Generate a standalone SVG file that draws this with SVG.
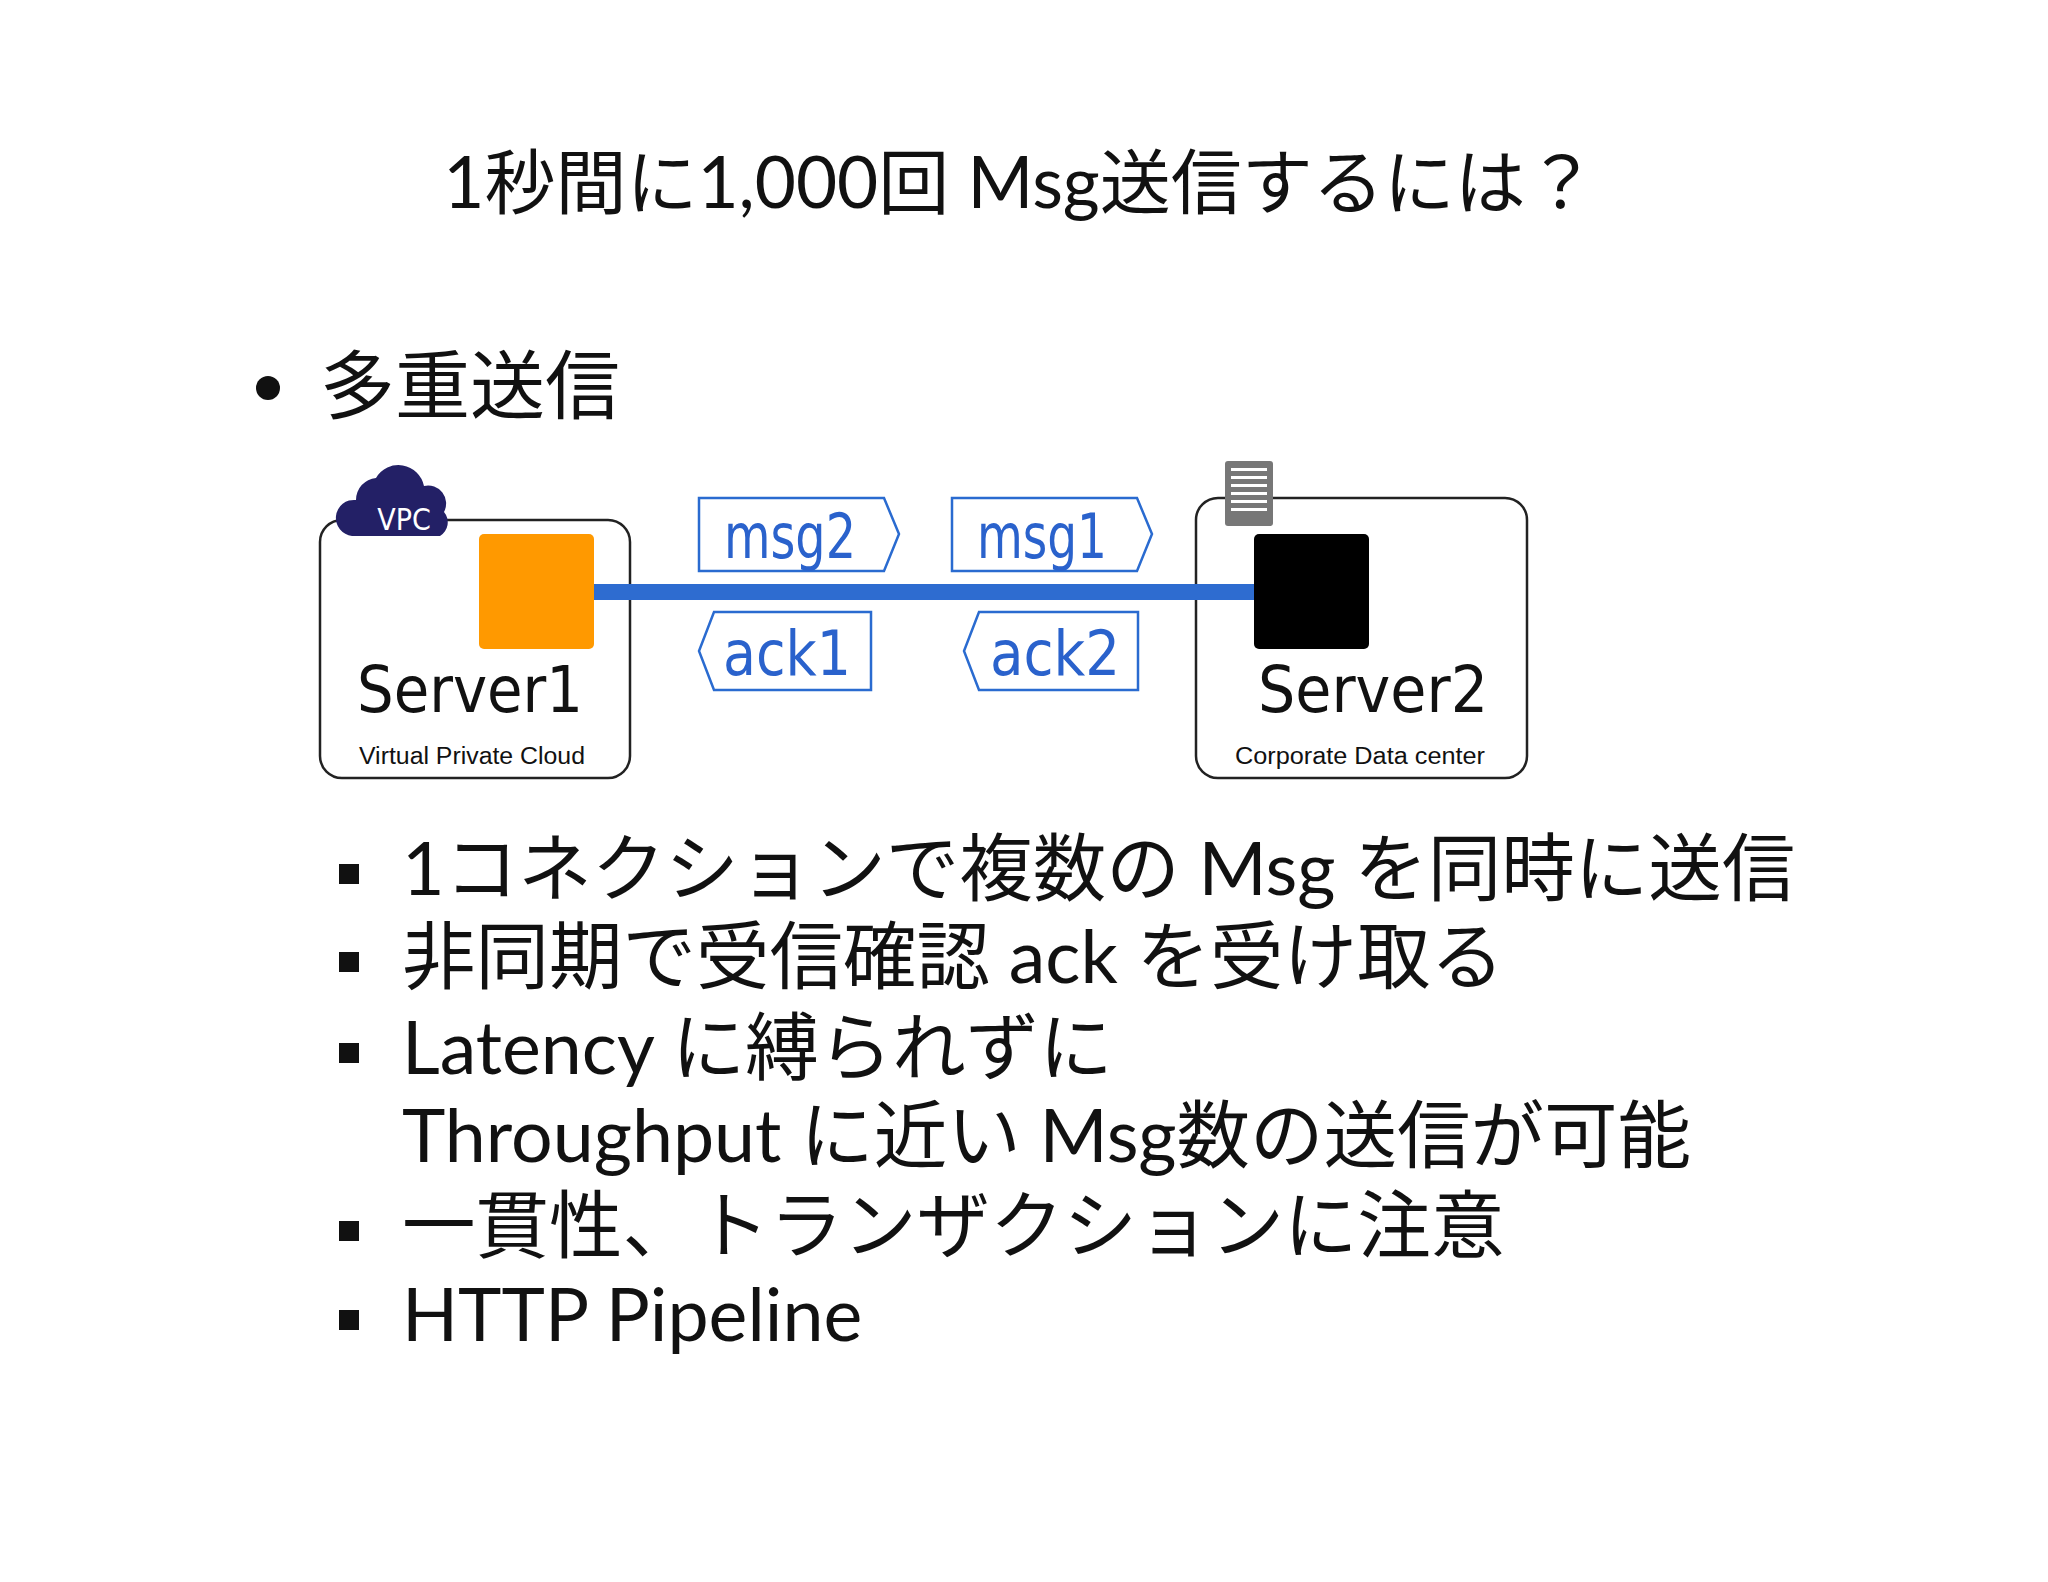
<svg xmlns="http://www.w3.org/2000/svg" width="2048" height="1582" viewBox="0 0 2048 1582">
<style>
.t{font-family:Lato,"Noto Sans CJK JP",sans-serif;fill:#111}
.cj{font-size:73.5px}
.box{fill:#fff;stroke:#222;stroke-width:2.5}
.tag{fill:#fff;stroke:#2a6bd0;stroke-width:2.5}
.tagt{font-family:"DejaVu Sans Condensed","DejaVu Sans",sans-serif;font-size:62px;fill:#2a62cc}
.srv{font-family:"DejaVu Sans Condensed","DejaVu Sans",sans-serif;font-size:64px;fill:#111}
.sub{font-family:"Liberation Sans",Arial,sans-serif;font-size:23px;fill:#111}
</style>
<rect width="2048" height="1582" fill="#fff"/>
<text class="t" x="1020" y="208" font-size="71" text-anchor="middle">1秒間に1,000回 Msg送信するには？</text>
<circle cx="268" cy="388" r="12" fill="#111"/>
<text class="t" x="320" y="413" font-size="75">多重送信</text>
<g id="server1">
<rect class="box" x="320" y="520" width="310" height="258" rx="22"/>
<rect x="479" y="534" width="115" height="115" rx="5" fill="#f90"/>
<text class="srv" x="357" y="712" textLength="226" lengthAdjust="spacingAndGlyphs">Server1</text>
<text class="sub" x="472" y="764" text-anchor="middle" textLength="226" lengthAdjust="spacingAndGlyphs">Virtual Private Cloud</text>
</g>
<g id="vpc">
<path d="M352,536 a18,18 0 0 1 4,-36 a22,22 0 0 1 20,-22 a26,26 0 0 1 48,8 a18,18 0 0 1 20,26 a16,16 0 0 1 -4,24 z" fill="#232066"/>
<text x="404" y="530" font-family="DejaVu Sans Condensed,sans-serif" font-size="30" fill="#fff" text-anchor="middle">VPC</text>
</g>
<g id="server2">
<rect class="box" x="1196" y="498" width="331" height="280" rx="22"/>
<rect x="1254" y="534" width="115" height="115" rx="5" fill="#000"/>
<text class="srv" x="1258" y="712" textLength="230" lengthAdjust="spacingAndGlyphs">Server2</text>
<text class="sub" x="1360" y="764" text-anchor="middle" textLength="250" lengthAdjust="spacingAndGlyphs">Corporate Data center</text>
<rect x="1225" y="461" width="48" height="65" rx="3" fill="#777"/>
<g fill="#fff"><rect x="1231" y="468" width="36" height="3"/><rect x="1231" y="476" width="36" height="3"/><rect x="1231" y="484" width="36" height="3"/><rect x="1231" y="492" width="36" height="3"/><rect x="1231" y="500" width="36" height="3"/><rect x="1231" y="508" width="36" height="3"/></g>
</g>
<g id="connectors">
<line x1="594" y1="592" x2="1254" y2="592" stroke="#2e6cd0" stroke-width="16"/>
</g>
<g id="msg2"><path class="tag" d="M699,498 H884 L899,534 L884,571 H699 Z"/><text class="tagt" x="724" y="558" textLength="132" lengthAdjust="spacingAndGlyphs">msg2</text></g>
<g id="msg1"><path class="tag" d="M952,498 H1137 L1152,534 L1137,571 H952 Z"/><text class="tagt" x="977" y="558" textLength="130" lengthAdjust="spacingAndGlyphs">msg1</text></g>
<g id="ack1"><path class="tag" d="M714,612 H871 V690 H714 L699,651 Z"/><text class="tagt" x="723" y="675" textLength="128" lengthAdjust="spacingAndGlyphs">ack1</text></g>
<g id="ack2"><path class="tag" d="M979,612 H1138 V690 H979 L964,651 Z"/><text class="tagt" x="990" y="675" textLength="130" lengthAdjust="spacingAndGlyphs">ack2</text></g>
<g fill="#111"><rect x="339" y="864" width="20" height="20"/><rect x="339" y="952" width="20" height="20"/><rect x="339" y="1043" width="20" height="20"/><rect x="339" y="1221" width="20" height="20"/><rect x="339" y="1310" width="20" height="20"/></g>
<g class="t cj">
<text x="402" y="895">1コネクションで複数の Msg を同時に送信</text>
<text x="402" y="983">非同期で受信確認 ack を受け取る</text>
<text x="402" y="1074">Latency に縛られずに</text>
<text x="402" y="1162">Throughput に近い Msg数の送信が可能</text>
<text x="402" y="1252">一貫性、トランザクションに注意</text>
<text x="402" y="1341">HTTP Pipeline</text>
</g>
</svg>
